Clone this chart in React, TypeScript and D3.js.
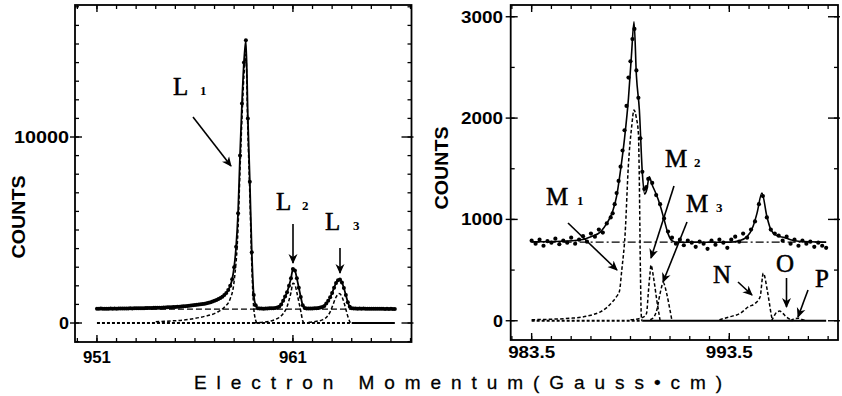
import React from 'react';
import * as d3 from 'd3';

const W = 842;
const H = 396;

// ---------- Left panel: L-shell conversion lines ----------
const leftStart = 951.0;
const leftStep = 0.1;
// measured counts, one per channel starting at 951.0 (step 0.1)
const leftCounts = [
  770, 765, 775, 770, 760, 772, 768, 775, 770, 778,
  772, 780, 775, 782, 778, 785, 780, 788, 784, 790,
  795, 790, 798, 800, 795, 805, 808, 812, 808, 818,
  815, 822, 826, 824, 832, 836, 842, 848, 852, 860,
  866, 872, 880, 888, 896, 905, 915, 926, 938, 950,
  962, 975, 990, 1005, 1020, 1040, 1060, 1085, 1115, 1150,
  1190, 1235, 1285, 1340, 1410, 1500, 1620, 1780, 2000, 2350,
  3000, 4100, 5900, 9000, 11800, 14000, 15200, 11000, 7600, 3800,
  1500, 950, 800, 775, 780, 772, 785, 778, 790, 795,
  800, 812, 830, 880, 1000, 1200, 1420, 1650, 2000, 2400,
  2900, 2820, 2400, 1900, 1400, 950, 810, 785, 778, 782,
  786, 792, 800, 812, 830, 860, 920, 1050, 1200, 1380,
  1620, 1900, 2150, 2300, 2340, 2180, 1880, 1500, 1120, 880,
  800, 782, 778, 772, 776, 770, 774, 768, 772, 766,
  770, 764, 768, 762, 766, 760, 764, 758, 762, 756,
  760, 755, 758,
];
const leftBackground = 750;
const leftL1: [number, number][] = [
  [954, 70], [954.8, 110], [955.4, 160], [956, 250], [956.5, 360], [957.1, 560],
  [957.5, 850], [957.8, 1300], [958.0, 2250], [958.2, 5100], [958.3, 8200],
  [958.4, 11000], [958.5, 13300], [958.6, 14450], [958.7, 10300], [958.8, 6900],
  [958.9, 3100], [959.0, 800], [959.1, 150], [959.15, 0],
];
const leftL2: [number, number][] = [
  [959.0, 10], [959.5, 40], [960.0, 150], [960.3, 300], [960.5, 500], [960.7, 880],
  [960.8, 1230], [960.9, 1640], [961.0, 2140], [961.1, 2060], [961.2, 1640],
  [961.3, 1140], [961.4, 640], [961.5, 120], [961.55, 0],
];
const leftL3: [number, number][] = [
  [961.8, 40], [962.2, 90], [962.5, 170], [962.7, 300], [962.9, 600], [963.0, 860],
  [963.2, 1390], [963.35, 1580], [963.5, 1420], [963.6, 1120], [963.7, 740],
  [963.8, 360], [963.9, 80], [963.95, 0],
];
const leftXTicks = [951, 961];
const leftYTicks = [0, 10000];

// ---------- Right panel: M-, N-, O-, P-shell lines ----------
const rightData: [number, number][] = [
  [983.5, 790], [983.7, 760], [983.9, 800], [984.1, 740], [984.3, 785], [984.5, 770],
  [984.7, 810], [984.9, 755], [985.1, 790], [985.3, 770], [985.5, 820], [985.7, 760],
  [985.9, 800], [986.1, 835], [986.3, 780], [986.5, 860], [986.7, 830], [986.9, 900],
  [987.1, 870], [987.3, 960], [987.5, 1020], [987.6, 1060], [987.7, 1150], [987.8, 1260],
  [987.9, 1380], [988.0, 1520], [988.1, 1680], [988.2, 1880], [988.3, 2120], [988.4, 2400],
  [988.5, 2560], [988.6, 2780], [988.7, 2880], [988.8, 2470], [988.9, 2200], [989.0, 1800],
  [989.1, 1470], [989.2, 1300], [989.3, 1320], [989.4, 1400], [989.6, 1360], [989.8, 1240],
  [990.0, 1150], [990.2, 1010], [990.4, 880], [990.6, 820], [990.8, 760], [991.0, 800],
  [991.2, 745], [991.4, 790], [991.6, 770], [991.8, 730], [992.0, 780], [992.2, 760],
  [992.4, 710], [992.6, 790], [992.8, 750], [993.0, 800], [993.2, 770], [993.4, 720],
  [993.6, 800], [993.8, 830], [994.0, 780], [994.2, 860], [994.4, 820], [994.6, 900],
  [994.8, 980], [995.0, 1150], [995.2, 1230], [995.4, 1020], [995.6, 900], [995.8, 860],
  [996.0, 840], [996.2, 790], [996.4, 830], [996.6, 760], [996.8, 800], [997.0, 740],
  [997.2, 790], [997.4, 760], [997.6, 780], [997.8, 730], [998.0, 770], [998.2, 740],
  [998.4, 720],
];
const rightFit: [number, number][] = [
  [983.5, 780], [985.0, 785], [986.0, 800], [986.5, 830], [987.0, 880], [987.3, 960],
  [987.6, 1080], [987.8, 1230], [988.0, 1490], [988.2, 1800], [988.4, 2200], [988.55, 2620],
  [988.68, 2950], [988.8, 2420], [988.95, 2080], [989.1, 1460], [989.22, 1250], [989.32, 1290],
  [989.45, 1420], [989.6, 1340], [989.8, 1250], [990.0, 1140], [990.2, 1000], [990.4, 860],
  [990.6, 790], [990.8, 775], [991.5, 775], [993.5, 775], [994.0, 790], [994.4, 830],
  [994.7, 930], [994.9, 1060], [995.15, 1260], [995.4, 1030], [995.6, 900], [995.9, 840],
  [996.3, 820], [996.6, 800], [997.0, 785], [998.4, 775],
];
const rightBackground = 775;
const rightM1: [number, number][] = [
  [983.5, 10], [984.5, 15], [985.5, 25], [986.0, 35], [986.5, 55], [987.0, 90],
  [987.3, 130], [987.6, 190], [987.8, 240], [987.94, 290], [988.06, 500], [988.23, 860],
  [988.39, 1520], [988.56, 1915], [988.68, 2080], [988.8, 2000], [988.9, 1850],
  [988.95, 1356], [989.0, 530], [989.05, 40], [989.08, 0],
];
const rightM2: [number, number][] = [
  [988.5, 10], [989.0, 25], [989.25, 50], [989.32, 80], [989.4, 270], [989.49, 470],
  [989.54, 550], [989.66, 435], [989.83, 205], [989.95, 60], [990.0, 0],
];
const rightM3: [number, number][] = [
  [989.5, 10], [989.7, 40], [989.83, 105], [990.0, 270], [990.16, 375], [990.33, 270],
  [990.5, 105], [990.6, 0],
];
const rightN: [number, number][] = [
  [993.0, 10], [993.54, 40], [994.05, 73], [994.47, 138], [994.8, 170], [995.06, 237],
  [995.22, 468], [995.42, 303], [995.53, 172], [995.64, 40], [995.7, 0],
];
const rightO: [number, number][] = [
  [995.64, 0], [995.75, 40], [995.9, 85], [996.05, 95], [996.2, 75], [996.35, 45],
  [996.55, 15], [996.7, 0],
];
const rightP: [number, number][] = [
  [996.6, 0], [996.8, 20], [997.0, 25], [997.2, 10], [997.4, 0],
];
const rightXTicks = [983.5, 993.5];
const rightYTicks = [0, 1000, 2000, 3000];

const SANS = '"Liberation Sans", Arial, Helvetica, sans-serif';
const SERIF = '"Liberation Serif", "Times New Roman", serif';

type Scale = d3.ScaleLinear<number, number>;

interface FrameProps {
  x: Scale;
  y: Scale;
  xMinor: number[];
  yMinor: number[];
  xMajor: number[];
  yMajor: number[];
  xFmt: (v: number) => string;
  xLabelWidth: number;
  yLabelWidth: (s: string) => number;
  yLabelRight: number;
  xLabelBaseline: number;
  countsX: number;
  countsY: number;
}

function Frame(p: FrameProps) {
  const [x0, x1] = p.x.range();
  const [y0, y1] = p.y.range(); // y0 bottom, y1 top
  const minor = 4;
  const major = 7;
  return (
    <g>
      <rect x={x0} y={y1} width={x1 - x0} height={y0 - y1} fill="none" stroke="#000" strokeWidth={1.8} />
      {p.xMinor.map((v) => (
        <g key={'xm' + v}>
          <line x1={p.x(v)} x2={p.x(v)} y1={y0} y2={y0 - minor} stroke="#000" strokeWidth={1.3} />
          <line x1={p.x(v)} x2={p.x(v)} y1={y1} y2={y1 + minor} stroke="#000" strokeWidth={1.3} />
        </g>
      ))}
      {p.xMajor.map((v) => (
        <g key={'xM' + v}>
          <line x1={p.x(v)} x2={p.x(v)} y1={y0} y2={y0 - major} stroke="#000" strokeWidth={1.4} />
          <line x1={p.x(v)} x2={p.x(v)} y1={y1} y2={y1 + major} stroke="#000" strokeWidth={1.4} />
          <text
            x={p.x(v)}
            y={p.xLabelBaseline}
            textAnchor="middle"
            fontFamily={SANS}
            fontSize={17}
            fontWeight="bold"
            textLength={p.xLabelWidth}
            lengthAdjust="spacingAndGlyphs"
          >
            {p.xFmt(v)}
          </text>
        </g>
      ))}
      {p.yMinor.map((v) => (
        <g key={'ym' + v}>
          <line x1={x0} x2={x0 + minor} y1={p.y(v)} y2={p.y(v)} stroke="#000" strokeWidth={1.3} />
          <line x1={x1} x2={x1 - minor} y1={p.y(v)} y2={p.y(v)} stroke="#000" strokeWidth={1.3} />
        </g>
      ))}
      {p.yMajor.map((v) => {
        const s = String(v);
        return (
          <g key={'yM' + v}>
            <line x1={x0 - 5} x2={x0 + major} y1={p.y(v)} y2={p.y(v)} stroke="#000" strokeWidth={1.4} />
            <line x1={x1 + 2} x2={x1 - 10} y1={p.y(v)} y2={p.y(v)} stroke="#000" strokeWidth={1.4} />
            <text
              x={p.yLabelRight}
              y={p.y(v) + 6}
              textAnchor="end"
              fontFamily={SANS}
              fontSize={17}
              fontWeight="bold"
              textLength={p.yLabelWidth(s)}
              lengthAdjust="spacingAndGlyphs"
            >
              {s}
            </text>
          </g>
        );
      })}
      <text
        transform={`translate(${p.countsX},${p.countsY}) rotate(-90)`}
        textAnchor="middle"
        fontFamily={SANS}
        fontSize={18}
        fontWeight="bold"
        textLength={83}
        lengthAdjust="spacingAndGlyphs"
        dy="0.35em"
      >
        COUNTS
      </text>
    </g>
  );
}

function Arrow({ x1, y1, x2, y2 }: { x1: number; y1: number; x2: number; y2: number }) {
  return <line x1={x1} y1={y1} x2={x2} y2={y2} stroke="#000" strokeWidth={1.6} markerEnd="url(#arrowHead)" />;
}

function PeakLabel({ x, y, main, sub, subDx }: { x: number; y: number; main: string; sub?: string; subDx?: number }) {
  return (
    <g>
      <text x={x} y={y} fontFamily={SERIF} fontSize={25} fill="#000" stroke="#000" strokeWidth={0.5}>
        {main}
      </text>
      {sub && (
        <text x={x + (subDx ?? 24)} y={y} fontFamily={SERIF} fontSize={13} fontWeight="bold" fill="#000">
          {sub}
        </text>
      )}
    </g>
  );
}

export default function App() {
  // scales
  const lx = d3.scaleLinear().domain([949.88, 967.05]).range([75, 411.5]);
  const ly = d3.scaleLinear().domain([-1021, 17097]).range([342, 5]);
  const rx = d3.scaleLinear().domain([982.44, 999.0]).range([510.7, 838]);
  const ry = d3.scaleLinear().domain([-190, 3116]).range([340, 5]);

  const leftData: [number, number][] = leftCounts.map((c, i) => [leftStart + i * leftStep, c]);
  const leftEnd = leftData[leftData.length - 1][0];

  const lineL = d3
    .line<[number, number]>()
    .x((d) => lx(d[0]))
    .y((d) => ly(d[1]))
    .curve(d3.curveMonotoneX);
  const lineR = d3
    .line<[number, number]>()
    .x((d) => rx(d[0]))
    .y((d) => ry(d[1]))
    .curve(d3.curveMonotoneX);

  const dashComp = '3.5,2.2';

  return (
    <svg
      width={W}
      height={H}
      viewBox={`0 0 ${W} ${H}`}
      style={{ position: 'absolute', left: 0, top: 0, background: '#fff' }}
    >
      <defs>
        <marker
          id="arrowHead"
          viewBox="0 0 10 10"
          refX={9}
          refY={5}
          markerWidth={10}
          markerHeight={10}
          markerUnits="userSpaceOnUse"
          orient="auto"
        >
          <path d="M0,0.5 L10,5 L0,9.5 L3,5 Z" fill="#000" />
        </marker>
      </defs>
      <rect x={0} y={0} width={W} height={H} fill="#fff" />

      {/* ---------- left panel ---------- */}
      <Frame
        x={lx}
        y={ly}
        xMinor={d3.range(950, 968)}
        yMinor={d3.range(-1000, 17001, 1000)}
        xMajor={leftXTicks}
        yMajor={leftYTicks}
        xFmt={(v) => String(v)}
        xLabelWidth={28}
        yLabelWidth={(s) => (s.length > 1 ? 55 : 10)}
        yLabelRight={69}
        xLabelBaseline={363}
        countsX={19}
        countsY={217}
      />
      {/* zero baseline */}
      <line x1={lx(leftStart)} x2={lx(964)} y1={ly(0)} y2={ly(0)} stroke="#000" strokeWidth={2} strokeDasharray="3,2" />
      <line x1={lx(964)} x2={lx(leftEnd)} y1={ly(0)} y2={ly(0)} stroke="#000" strokeWidth={1.8} />
      {/* background level */}
      <line
        x1={lx(leftStart)}
        x2={lx(leftEnd)}
        y1={ly(leftBackground)}
        y2={ly(leftBackground)}
        stroke="#000"
        strokeWidth={1.3}
        strokeDasharray="6,3"
      />
      {/* component lines */}
      {[leftL1, leftL2, leftL3].map((c, i) => (
        <path key={i} d={lineL(c) ?? ''} fill="none" stroke="#000" strokeWidth={1.5} strokeDasharray={dashComp} />
      ))}
      {/* total fit through data */}
      <path d={lineL(leftData) ?? ''} fill="none" stroke="#000" strokeWidth={1.8} />
      {leftData.map((d, i) => (
        <circle key={i} cx={lx(d[0])} cy={ly(d[1])} r={2} fill="#000" />
      ))}
      <PeakLabel x={173} y={95} main="L" sub="1" subDx={27} />
      <PeakLabel x={276} y={210} main="L" sub="2" subDx={26} />
      <PeakLabel x={325} y={230} main="L" sub="3" subDx={28} />
      <Arrow x1={193} y1={117} x2={231} y2={166} />
      <Arrow x1={293} y1={224} x2={293} y2={263} />
      <Arrow x1={340} y1={248} x2={340} y2={273} />

      {/* ---------- right panel ---------- */}
      <Frame
        x={rx}
        y={ry}
        xMinor={d3.range(982.5, 999, 1)}
        yMinor={d3.range(0, 3001, 500)}
        xMajor={rightXTicks}
        yMajor={rightYTicks}
        xFmt={(v) => v.toFixed(1)}
        xLabelWidth={47}
        yLabelWidth={(s) => (s.length > 1 ? 42 : 10)}
        yLabelRight={503}
        xLabelBaseline={358}
        countsX={442}
        countsY={168}
      />
      <line x1={rx(983.5)} x2={rx(989.1)} y1={ry(0)} y2={ry(0)} stroke="#000" strokeWidth={2} strokeDasharray="3,2" />
      <line x1={rx(989.1)} x2={rx(998.4)} y1={ry(0)} y2={ry(0)} stroke="#000" strokeWidth={1.8} />
      <line
        x1={rx(983.5)}
        x2={rx(998.4)}
        y1={ry(rightBackground)}
        y2={ry(rightBackground)}
        stroke="#000"
        strokeWidth={1.3}
        strokeDasharray="8,3,2,3"
      />
      {[rightM1, rightM2, rightM3, rightN, rightO, rightP].map((c, i) => (
        <path key={i} d={lineR(c) ?? ''} fill="none" stroke="#000" strokeWidth={1.5} strokeDasharray={dashComp} />
      ))}
      <path d={lineR(rightFit) ?? ''} fill="none" stroke="#000" strokeWidth={1.6} />
      {rightData.map((d, i) => (
        <circle key={i} cx={rx(d[0])} cy={ry(d[1])} r={2.1} fill="#000" />
      ))}
      <PeakLabel x={546} y={205} main="M" sub="1" subDx={31} />
      <PeakLabel x={665} y={167} main="M" sub="2" subDx={29} />
      <PeakLabel x={686} y={212} main="M" sub="3" subDx={30} />
      <PeakLabel x={713} y={283} main="N" />
      <PeakLabel x={776} y={272} main="O" />
      <PeakLabel x={815} y={287} main="P" />
      <Arrow x1={568} y1={223} x2={617} y2={270} />
      <Arrow x1={674} y1={186} x2={651} y2={258} />
      <Arrow x1={687} y1={222} x2={663} y2={282} />
      <Arrow x1={738} y1={282} x2={752} y2={295} />
      <Arrow x1={786.5} y1={278} x2={786.5} y2={307} />
      <Arrow x1={808} y1={290} x2={798} y2={317} />

      {/* shared axis title */}
      <text
        x={194}
        y={389}
        fontFamily={SANS}
        fontSize={19}
        textLength={528}
        lengthAdjust="spacing"
        stroke="#000"
        strokeWidth={0.3}
      >
        Electron Momentum(Gauss•cm)
      </text>
    </svg>
  );
}
